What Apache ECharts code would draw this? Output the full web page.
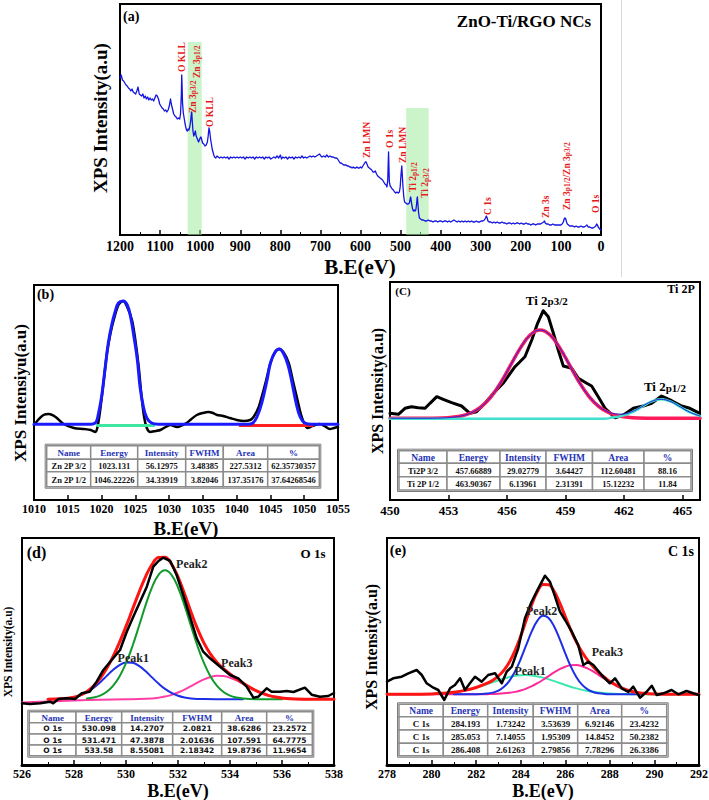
<!DOCTYPE html>
<html>
<head>
<meta charset="utf-8">
<script src="https://cdn.jsdelivr.net/npm/echarts@6.0.0/dist/echarts.min.js"></script>
<style>html,body{margin:0;padding:0;background:#fff;}#chart{width:709px;height:800px;}</style>
</head>
<body>
<div id="chart"></div>
<script>
// ================= DATA =================
// (a) survey spectrum: [binding energy eV, intensity a.u.]
const surveyTicks = [0,100,200,300,400,500,600,700,800,900,1000,1100,1200];
const surveyData = [
[1200,157],[1197,160],[1194,155],[1191,154],[1188,152],[1185,150],[1182,149],[1179,147],[1176,146],[1173,144],[1170,146],[1167,143],[1164,142],[1161,141],[1158,144],[1155,148],[1152,141],[1149,140],[1146,139],[1143,141],[1140,137],[1137,139],[1134,136],[1131,138],[1128,135],[1125,137],[1122,135],[1119,136],[1116,134],[1113,137],[1110,140],[1107,139],[1104,136],[1101,131],[1098,129],[1095,127],[1092,126],[1089,124],[1086,125],[1083,123],[1080,125],[1077,129],[1074,136],[1072,131],[1069,126],[1066,121],[1063,119],[1060,118],[1057,116],[1054,117],[1051,116],[1049,121],[1047,140],[1046,160],[1045,148],[1044,132],[1042,122],[1040,117],[1038,112],[1036,108],[1034,105],[1032,104],[1030,106],[1028,105],[1026,108],[1024,113],[1022,121],[1021,123],[1020,116],[1018,104],[1016,99],[1014,101],[1012,104],[1010,99],[1008,97],[1006,95],[1004,93],[1002,95],[1000,97],[998,98],[996,95],[994,92],[991,91],[988,89],[985,90],[982,93],[980,99],[978,107],[976,103],[974,96],[972,91],[970,86],[968,83],[966,80],[964,78],[961,77],[958,79],[955,78],[952,77],[948,78],[944,77],[940,78],[936,77],[932,78],[928,76],[924,78],[920,77],[916,78],[912,77],[908,78],[904,77],[900,78],[896,77],[892,78],[888,76],[884,78],[880,77],[876,78],[872,77],[868,78],[864,76],[860,78],[856,77],[852,78],[848,77],[844,78],[840,76],[836,78],[832,77],[828,78],[824,76],[820,77],[816,78],[812,77],[808,79],[804,77],[800,80],[797,76],[794,78],[790,77],[786,78],[782,76],[778,78],[774,77],[770,78],[766,76],[762,78],[758,77],[754,78],[750,77],[746,79],[742,77],[738,78],[734,77],[730,78],[726,79],[722,78],[718,79],[714,78],[710,79],[706,80],[702,81],[699,79],[696,78],[692,79],[688,78],[684,80],[680,78],[676,79],[672,78],[668,78],[664,77],[660,77],[657,76],[654,74],[651,72],[648,72],[645,71],[642,70],[639,70],[636,70],[633,69],[630,69],[627,68],[624,68],[621,67],[618,68],[615,67],[612,67],[609,68],[606,67],[603,67],[600,68],[597,67],[594,69],[591,71],[588,73],[586,73],[584,71],[581,68],[578,67],[575,66],[572,65],[569,63],[566,63],[563,64],[560,61],[557,59],[554,58],[551,57],[548,56],[545,55],[542,53],[539,51],[536,50],[534,48],[532,55],[531,70],[530,83],[529,68],[528,53],[526,49],[524,48],[521,46],[518,45],[515,43],[512,42],[509,43],[506,42],[503,43],[501,48],[499,60],[497,69],[496,62],[494,48],[492,38],[490,33],[487,32],[484,31],[481,31],[478,32],[476,36],[475,38],[474,36],[472,30],[470,26],[468,24],[466,25],[464,24],[462,25],[460,31],[459,36],[458,38],[457,32],[455,22],[453,17],[450,16],[447,15],[443,15],[439,14],[435,14],[431,15],[427,14],[423,14],[419,13],[415,14],[411,14],[407,13],[403,14],[399,14],[395,13],[391,14],[387,14],[383,13],[379,14],[375,13],[371,14],[367,15],[363,14],[359,13],[355,14],[351,13],[347,14],[343,13],[339,14],[335,13],[331,14],[327,13],[323,14],[319,13],[315,13],[311,14],[307,13],[303,13],[299,14],[295,14],[291,15],[288,17],[286,19],[284,17],[282,14],[279,13],[275,13],[271,12],[267,13],[263,12],[259,13],[255,12],[251,12],[247,13],[243,12],[239,12],[235,11],[231,12],[227,12],[223,11],[219,12],[215,11],[211,12],[207,12],[203,11],[199,12],[195,11],[191,11],[187,12],[183,11],[179,11],[175,10],[171,11],[167,11],[163,10],[159,11],[155,11],[151,11],[147,12],[143,13],[141,14],[139,12],[136,11],[132,11],[128,10],[124,10],[120,11],[116,10],[112,10],[108,10],[104,10],[100,10],[97,11],[94,13],[92,16],[90,17],[88,16],[86,13],[84,11],[81,10],[78,9],[74,9],[70,9],[66,8],[62,9],[58,8],[54,8],[50,9],[46,8],[42,8],[38,9],[35,10],[32,8],[28,8],[24,7],[20,7],[16,8],[13,9],[11,11],[9,10],[7,8],[5,7],[3,6],[1,5],[0,5]
];
// shaded regions: [from eV, to eV, top intensity]
const surveyBands = [[1031,996,193],[486,430,127]];
// peak labels: [text, eV, intensity at label start]
const surveyLabels = [
  ['O KLL',1046,163],['Zn 3{s|p3/2}',1018,122],['Zn 3{s|p1/2}',1008,157],['O KLL',975,108],
  ['Zn LMN',584,77],['O 1s',526,87],['Zn LMN',494,72],['Ti 2{s|p1/2}',469,43],['Ti 2{s|p3/2}',439,37],
  ['C 1s',282,20],['Zn 3s',137,17],['Zn 3{s|p1/2}/Zn 3{s|p3/2}',85,25],['O 1s',12,22]
];

// (b) Zn 2p
const znTicks = [1010,1015,1020,1025,1030,1035,1040,1045,1050,1055];
const znData = [[1010,75],[1010.6,80],[1011.4,85],[1012.2,86],[1013.2,83],[1014.4,76],[1015.9,72],[1017.4,71],[1018.4,70],[1019.1,68],[1019.4,73],[1019.8,90],[1020.3,118],[1020.8,147],[1021.3,166],[1021.8,180],[1022.5,195],[1023.2,199],[1023.8,193],[1024.5,180],[1025,160],[1025.5,133],[1025.9,105],[1026.3,83],[1026.7,72],[1027.2,68],[1028,69],[1028.7,70],[1029.5,73],[1030.2,75],[1031.2,73],[1032,75],[1032.6,77],[1033.3,81],[1034.1,85],[1035,87],[1035.8,88],[1036.5,87],[1037.1,85],[1038,84],[1039,82],[1040,80],[1041,79],[1042,80],[1042.5,83],[1043.2,92],[1043.7,103],[1044.3,118],[1045,137],[1045.6,147],[1046.3,151],[1047,147],[1047.7,137],[1048.3,120],[1048.9,103],[1049.5,86],[1050.1,75],[1050.5,72],[1050.9,73],[1051.6,75],[1052.3,76],[1053,74],[1053.8,71],[1054.4,72],[1055,73]];
const znFit = [[1010,75.7],[1018,75.7],[1018.7,76],[1019.2,78],[1019.5,85],[1020,103],[1020.5,130],[1021,157],[1021.5,175],[1022,188],[1022.5,197],[1023.2,199],[1023.8,195],[1024.3,183],[1024.8,163],[1025.3,140],[1025.7,113],[1026.2,93],[1026.7,82],[1027.4,77],[1028.4,75.7],[1041.7,75.7],[1042.4,77],[1043,83],[1043.7,96.7],[1044.5,120],[1045,137],[1045.7,148],[1046.3,151],[1046.9,147],[1047.6,135],[1048.2,117],[1048.8,97],[1049.4,83],[1050.1,77],[1051.1,75.7],[1055,75.7]];
const znBase32 = [[1019.4,74.5],[1027.7,74.5]];
const znBase12 = [[1040.5,74.5],[1051.2,74.5]];
const znHeader = ['Name','Energy','Intensity','FWHM','Area','%'];
const znRows = [['Zn 2P 3/2','1023.131','56.12975','3.48385','227.5312','62.35730357'],['Zn 2P 1/2','1046.22226','34.33919','3.82046','137.35176','37.64268546']];

// (c) Ti 2p
const tiTicks = [450,453,456,459,462,465];
const tiRange = [450,465.9];
const tiData = [[450.0,86.7],[450.43,85.7],[450.77,91.7],[451.1,93.3],[451.45,92.3],[451.8,91.7],[452.05,96.7],[452.4,103.3],[452.73,100.7],[453.16,97.3],[453.67,94],[454.1,86.7],[454.44,88.3],[454.87,96.7],[455.38,108.3],[455.8,116.7],[456.41,133.3],[456.92,143.3],[457.27,160],[457.57,176.7],[457.86,189.3],[458.12,183.3],[458.38,166.7],[458.63,150],[458.89,134],[459.32,131.7],[459.66,121.7],[460.09,116.7],[460.34,114],[460.68,103.3],[461.03,91.7],[461.54,82.3],[461.97,85],[462.48,91.7],[462.99,94],[463.42,96.7],[463.93,104],[464.45,99.3],[464.96,94],[465.38,91.7],[465.81,87.3]];
const tiPeak32 = [[450,81.7],[451.7,81.7],[452.7,82.0],[453.2,82.7],[453.7,84.2],[454.2,87.5],[454.7,93.6],[455.2,103.7],[455.7,118.0],[456.2,135.3],[456.7,152.4],[457.2,165.2],[457.7,170],[458.2,165.2],[458.7,152.4],[459.2,135.3],[459.7,118.0],[460.2,103.7],[460.7,93.6],[461.2,87.5],[461.7,84.2],[462.2,82.7],[462.7,82.0],[463.7,81.7],[465.9,81.7]];
const tiPeak12 = [[450,81.2],[461,81.2],[461.4,82.4],[461.9,84.1],[462.4,87.6],[462.9,93.0],[463.4,98.4],[463.9,100.7],[464.4,98.4],[464.9,93.0],[465.4,87.6],[465.9,84.1]];
const tiEnvelope = [[450,81.7],[451.7,81.7],[452.7,82.0],[453.2,82.7],[453.7,84.2],[454.2,87.5],[454.7,93.6],[455.2,103.7],[455.7,118.0],[456.2,135.3],[456.7,152.4],[457.2,165.2],[457.7,170],[458.2,165.2],[458.7,152.4],[459.2,135.3],[459.7,118.0],[460.2,103.7],[460.7,93.8],[460.9,91.0],[461.4,86.6],[461.9,85.9],[462.4,88.3],[462.9,93.2],[463.4,98.5],[463.9,100.7],[464.4,98.4],[464.9,93.0],[465.4,87.6],[465.9,84.1]];
const tiLabels = [['Ti 2{s|p3/2}',458.04,200],['Ti 2{s|p1/2}',464.1,113.3]];
const tiRows = [['Ti2P 3/2','457.66889','29.02779','3.64427','112.60481','88.16'],['Ti 2P 1/2','463.90367','6.13961','2.31391','15.12232','11.84']];

// (d) O 1s
const oTicks = [526,528,530,532,534,536,538];
const oData = [[526.0,61.7],[526.3,61],[526.7,61.7],[527.08,63.3],[527.2,61.7],[527.4,66],[527.72,66.7],[528.04,66],[528.3,71.7],[528.6,73.3],[528.87,83.3],[529.13,95],[529.45,105],[529.77,115],[530.03,133.3],[530.28,148.3],[530.54,163.3],[530.8,178.3],[531.05,198.3],[531.25,204],[531.43,207.3],[531.7,204],[531.95,190],[532.2,170],[532.46,148.3],[532.72,126.7],[532.97,113.3],[533.23,106.7],[533.62,98.3],[534.0,90],[534.32,86.7],[534.64,78.3],[534.9,67.3],[535.09,68.3],[535.41,76.7],[535.6,73.3],[535.92,73.3],[536.18,74],[536.44,73],[536.88,77.3],[537.14,70.3],[537.46,68.3],[537.78,69],[538.0,72]];
const oPeak1 = [[527,65.8],[527.5,66.2],[528,67.85],[528.25,69.8],[528.5,72.8],[528.75,77.1],[529,82.6],[529.25,88.9],[529.5,95.0],[529.75,99.9],[530,102.5],[530.25,102.2],[530.5,99.1],[530.75,93.9],[531,87.6],[531.25,81.45],[531.5,76.1],[531.75,72.1],[532,69.3],[532.25,67.6],[532.5,66.6],[532.75,66.1],[533,65.9],[534,65.7],[534.5,65.7]];
const oPeak2 = [[528.5,66.5],[528.75,67.5],[529,69.45],[529.25,73.05],[529.5,79.1],[529.75,88.5],[530,101.8],[530.25,119.0],[530.5,139.0],[530.75,159.6],[531,177.7],[531.25,190.2],[531.5,194.7],[531.75,190.2],[532,177.7],[532.25,159.6],[532.5,139.0],[532.75,119.0],[533,101.8],[533.25,88.5],[533.5,79.1],[533.75,73.05],[534,69.45],[534.25,67.5],[534.5,66.5],[535,65.8],[536,65.7]];
const oPeak3 = [[526,62.5],[527,63.5],[528,64.5],[529,65.2],[530,65.7],[530.5,65.9],[531,66.55],[531.25,67.3],[531.5,68.4],[531.75,70.1],[532,72.5],[532.25,75.4],[532.5,78.9],[532.75,82.4],[533,85.65],[533.25,88.05],[533.5,89.2],[533.75,88.95],[534,87.3],[534.25,84.55],[534.5,81.15],[534.75,77.6],[535,74.3],[535.25,71.55],[535.5,69.45],[535.75,67.95],[536,66.95],[536.5,66.0],[537,65.8]];
const oEnvelope = [[527,65.8],[527.5,66.2],[528,67.9],[528.25,70.0],[528.5,73.6],[528.75,78.9],[529,86.35],[529.25,96.25],[529.5,108.4],[529.75,122.7],[530,138.6],[530.25,155.6],[530.5,172.6],[530.75,188.2],[531,200.5],[531.25,207.5],[531.5,207.8],[531.75,201.0],[532,188.1],[532.25,171.2],[532.5,153.1],[532.75,136.1],[533,121.9],[533.25,110.9],[533.5,102.6],[533.75,96.3],[534,91.05],[534.25,86.35],[534.5,81.95],[534.75,77.9],[535,74.4],[535.25,71.55],[535.5,69.4],[535.75,67.9],[536,67.0],[536.5,66.0],[537,65.8],[538,65.7]];
const oLabels = [['Peak2',532.53,200.7],['Peak1',530.28,107],['Peak3',534.26,102]];
const oRows = [['O 1s','530.098','14.2707','2.0821','38.6286','23.2572'],['O 1s','531.471','47.3878','2.01636','107.591','64.7775'],['O 1s','533.58','8.55081','2.18342','19.8736','11.9654']];

// (e) C 1s
const cTicks = [278,280,282,284,286,288,290,292];
const cData = [[278.0,83.3],[278.28,86.7],[278.66,88.3],[278.96,91.7],[279.33,95],[279.56,90],[279.78,81.7],[280.08,77.3],[280.3,75],[280.57,65],[280.83,76.7],[281.05,80],[281.28,86.7],[281.5,75],[281.72,81.7],[281.95,88.3],[282.25,83.3],[282.54,90],[282.85,91.7],[283.15,81.7],[283.37,93.3],[283.6,98.3],[283.89,116.7],[284.19,146.7],[284.49,163.3],[284.79,176.7],[285.09,189.3],[285.31,183.3],[285.54,168.3],[285.76,153.3],[285.99,145],[286.29,133.3],[286.58,120],[286.81,100],[287.03,103.3],[287.26,100],[287.63,90],[288.0,81.7],[288.23,86.7],[288.53,76.7],[288.83,73],[289.05,78.3],[289.35,67.3],[289.65,73.3],[289.88,79.3],[290.1,70],[290.4,71.7],[290.77,75],[291.07,70.7],[291.44,74],[291.74,71.7],[292.0,70]];
const cPeak1 = [[278,70.7],[279,70.75],[280,71.1],[280.5,71.64],[281,72.71],[281.5,74.57],[282,77.35],[282.5,80.93],[283,84.79],[283.5,88.06],[283.75,89.19],[284,89.85],[284.25,89.98],[284.5,89.59],[285,87.38],[285.5,83.88],[286,80.02],[286.5,76.6],[287,74.04],[287.5,72.39],[288,71.47],[288.5,71.01],[289,70.81],[290,70.7],[292,70.7]];
const cPeak2 = [[281,70.7],[282,70.79],[282.5,71.4],[282.75,72.39],[283,74.42],[283.25,78.19],[283.5,84.45],[283.75,93.75],[284,106.0],[284.25,120.1],[284.5,133.8],[284.75,144.3],[285,149.15],[285.25,147.05],[285.5,138.56],[285.75,125.78],[286,111.53],[286.25,98.34],[286.5,87.79],[286.75,80.34],[287,75.67],[287.25,73.04],[287.5,71.71],[287.75,71.09],[288,70.84],[288.5,70.7],[289.5,70.7]];
const cPeak3 = [[278,70.7],[281,70.7],[282,70.73],[282.5,70.83],[283,71.18],[283.5,72.17],[283.75,73.11],[284,74.47],[284.25,76.34],[284.5,78.78],[284.75,81.77],[285,85.22],[285.25,88.92],[285.5,92.57],[285.75,95.82],[286,98.31],[286.25,99.74],[286.5,99.91],[286.75,98.83],[287,96.61],[287.25,93.54],[287.5,89.96],[287.75,86.24],[288,82.7],[288.5,76.97],[289,73.45],[289.5,71.7],[290,71.01],[291,70.72],[292,70.7]];
const cEnvelope = [[278,70.7],[279,70.75],[280,71.1],[280.5,71.64],[281,72.7],[281.5,74.6],[282,77.5],[282.5,81.8],[282.75,84.8],[283,89.0],[283.25,94.9],[283.5,103.3],[283.75,114.7],[284,128.9],[284.25,145.0],[284.5,160.8],[284.75,173.4],[285,180.4],[285.25,180.3],[285.5,173.6],[285.75,162.1],[286,148.5],[286.25,134.9],[286.5,122.9],[286.75,113.0],[287,104.9],[287.25,98.3],[287.5,92.7],[287.75,87.8],[288,83.6],[288.5,77.3],[289,73.56],[289.5,71.74],[290,71.0],[291,70.7],[292,70.7]];
const cLabels = [['Peak2',284.94,154],['Peak1',284.42,94.5],['Peak3',287.89,113]];
const cRows = [['C 1s','284.193','1.73242','3.53639','6.92146','23.4232'],['C 1s','285.053','7.14055','1.95309','14.8452','50.2382'],['C 1s','286.408','2.61263','2.79856','7.78296','26.3386']];

// ================= CHART =================
const SERIF = '"Liberation Serif", "Times New Roman", serif';
const chart = echarts.init(document.getElementById('chart'), null, {renderer: 'svg', width: 709, height: 800});

const grids = [
  {left:120, top:4,   width:481, height:231},
  {left:34,  top:285, width:304, height:215},
  {left:390, top:282, width:310, height:218},
  {left:22,  top:538, width:312, height:227},
  {left:387, top:538, width:312, height:227}
].map(g => Object.assign({show:true, borderColor:'#000', borderWidth:2, backgroundColor:'rgba(0,0,0,0)', containLabel:false, outerBoundsMode:'none'}, g));

function plain(v) { return String(v); }
function xAx(gi, ticks, fs, extra, margin) {
  return Object.assign({
    type:'value', gridIndex:gi, min:ticks[0], max:ticks[ticks.length-1], interval:ticks[1]-ticks[0],
    axisLine:{show:true, onZero:false, lineStyle:{color:'#000', width:2}},
    axisTick:{show:true, inside:true, length:5, lineStyle:{color:'#000', width:1.5}},
    minorTick:{show:false},
    splitLine:{show:false},
    axisLabel:{show:true, color:'#000', fontFamily:SERIF, fontWeight:'bold', fontSize:fs, margin:(margin == null ? 4 : margin), formatter:plain}
  }, extra || {});
}
const minorT = {show:true, splitNumber:2, length:3, lineStyle:{color:'#000'}};
const xAxes = [
  xAx(0, surveyTicks, 14, {inverse:true, minorTick:minorT}),
  xAx(1, znTicks, 12, null, 3),
  xAx(2, tiTicks, 13, {max:tiRange[1], axisLabel:{show:true, color:'#000', fontFamily:SERIF, fontWeight:'bold', fontSize:13, margin:4,
      formatter: v => (Math.abs(v/3 - Math.round(v/3)) < 1e-6 ? String(v) : '')}}),
  xAx(3, oTicks, 12, {axisLine:{show:true, onZero:false, lineStyle:{color:'#000', width:3}}, minorTick:minorT}, 3),
  xAx(4, cTicks, 12, {axisLine:{show:true, onZero:false, lineStyle:{color:'#000', width:3}}, minorTick:minorT}, 3)
];
const yMax = [231, 215, 218, 227, 227];
const yAxes = yMax.map((m, i) => ({type:'value', gridIndex:i, min:0, max:m, show:false}));

function line(gi, data, color, width, z, smooth) {
  return {type:'line', xAxisIndex:gi, yAxisIndex:gi, data:data, symbol:'none', showSymbol:false,
          smooth: smooth || false, lineStyle:{color:color, width:width, join:'round', cap:'round'}, z:z || 2, silent:true};
}

const series = [];
// (a)
const surveySeries = line(0, surveyData, '#1414e0', 1.3, 3, false);
surveySeries.markArea = {silent:true, itemStyle:{color:'rgba(160,235,160,0.55)'},
  data: surveyBands.map(b => [{xAxis:b[0], yAxis:0}, {xAxis:b[1], yAxis:b[2]}])};
series.push(surveySeries);
// (b)
series.push(line(1, znData, '#000', 2.5, 2, 0.3));
series.push(line(1, znBase32, '#3fe6a2', 3, 3));
series.push(line(1, znBase12, '#ff2020', 3, 3));
series.push(line(1, znFit, '#1a1aff', 3, 4, 0.4));
// (c)
series.push(line(2, tiData, '#000', 3, 2, false));
series.push(line(2, tiPeak32, '#ff1a5a', 3.5, 3, 0.4));
series.push(line(2, tiPeak12, '#3fe0d0', 2.5, 4, 0.4));
series.push(line(2, tiEnvelope, '#2626d9', 1, 5, 0.4));
// (d)
series.push(line(3, oPeak3, '#ff3fa5', 2, 2, 0.4));
series.push(line(3, oPeak1, '#1c2fe6', 2, 3, 0.4));
series.push(line(3, oPeak2, '#119a2c', 2, 3, 0.4));
series.push(line(3, oEnvelope, '#ff1414', 3, 4, 0.4));
series.push(line(3, oData, '#000', 2.5, 5, false));
// (e)
series.push(line(4, cPeak1, '#3de8b0', 2, 2, 0.4));
series.push(line(4, cPeak3, '#ff2a9a', 2, 3, 0.4));
series.push(line(4, cPeak2, '#1c2fe6', 2, 3, 0.4));
series.push(line(4, cEnvelope, '#ff1414', 3, 4, 0.4));
series.push(line(4, cData, '#000', 2.5, 5, false));

chart.setOption({
  animation:false,
  backgroundColor:'#fff',
  grid:grids, xAxis:xAxes, yAxis:yAxes, series:series
});

// ================= ANNOTATIONS =================
const g = [];
function P(gi, x, y) { return chart.convertToPixel({gridIndex:gi}, [x, y]); }
function txt(x, y, text, font, opts) {
  return Object.assign({type:'text', x:x, y:y, z:60,
    style:Object.assign({text:text, font:font, fill:'#000', align:'center', verticalAlign:'middle'}, (opts && opts.style) || {})},
    (opts && opts.el) || {});
}
// (a) peak labels (red, vertical)
surveyLabels.forEach(l => {
  const p = P(0, l[1], l[2]);
  g.push({type:'text', x:p[0], y:p[1], rotation:Math.PI/2, z:60,
    style:{text:l[0], font:'bold 9.5px ' + SERIF, fill:'#e51b1b', align:'left', verticalAlign:'middle',
      rich:{s:{fontSize:7.5, fontFamily:SERIF, fontWeight:'bold', fill:'#e51b1b', verticalAlign:'bottom'}}}});
});
// (c)
tiLabels.forEach(l => {
  const p = P(2, l[1], l[2]);
  g.push({type:'text', x:p[0], y:p[1], z:60,
    style:{text:l[0], font:'bold 13px ' + SERIF, fill:'#000', align:'center', verticalAlign:'middle',
      rich:{s:{fontSize:11, fontFamily:SERIF, fontWeight:'bold', fill:'#000', verticalAlign:'bottom'}}}});
});
// (d), (e)
oLabels.forEach(l => { const p = P(3, l[1], l[2]); g.push(txt(p[0], p[1], l[0], 'bold 12px ' + SERIF, {style:{fill:'#222'}})); });
cLabels.forEach(l => { const p = P(4, l[1], l[2]); g.push(txt(p[0], p[1], l[0], 'bold 12px ' + SERIF, {style:{fill:'#222'}})); });

// panel titles / axis titles
g.push(txt(123, 16, '(a)', 'bold 14px ' + SERIF, {style:{align:'left'}}));
g.push(txt(524, 21, 'ZnO-Ti/RGO NCs', 'bold 17px ' + SERIF));
g.push(txt(100, 118, 'XPS Intensity(a.u)', 'bold 19px ' + SERIF, {el:{rotation:Math.PI/2}}));
g.push(txt(360, 267, 'B.E(eV)', 'bold 21px ' + SERIF));

g.push(txt(45.5, 294, '(b)', 'bold 14px ' + SERIF));
g.push(txt(20, 393, 'XPS Intensiyu(a.u)', 'bold 17px ' + SERIF, {el:{rotation:Math.PI/2}}));
g.push(txt(186, 528, 'B.E(eV)', 'bold 19px ' + SERIF));

g.push(txt(403, 291, '(C)', 'bold 11px ' + SERIF));
g.push(txt(681, 289, 'Ti 2P', 'bold 12px ' + SERIF));
g.push(txt(377, 391, 'XPS Intensity(a.u)', 'bold 16px ' + SERIF, {el:{rotation:Math.PI/2}}));

g.push(txt(36.5, 552, '(d)', 'bold 16px ' + SERIF));
g.push(txt(313, 553, 'O 1s', 'bold 13px ' + SERIF));
g.push(txt(8, 652, 'XPS Intensity(a.u)', 'bold 11.5px ' + SERIF, {el:{rotation:Math.PI/2}}));
g.push(txt(178, 791, 'B.E(eV)', 'bold 18px ' + SERIF));

g.push(txt(398, 550, '(e)', 'bold 15px ' + SERIF));
g.push(txt(681, 551, 'C 1s', 'bold 14px ' + SERIF));
g.push(txt(371, 647, 'XPS Intensity(a.u)', 'bold 16px ' + SERIF, {el:{rotation:Math.PI/2}}));
g.push(txt(543, 791, 'B.E(eV)', 'bold 18px ' + SERIF));

// faint page separator
g.push({type:'line', shape:{x1:621.5, y1:0, x2:621.5, y2:277}, style:{stroke:'#d8d8d8', lineWidth:1}, z:1});

// tables
function tableEls(cols, rows, header, body, hf, df) {
  const data = [header].concat(body);
  const els = [];
  for (let r = 0; r < rows.length - 1; r++) {
    for (let c = 0; c < cols.length - 1; c++) {
      els.push({type:'rect', z:50, shape:{x:cols[c], y:rows[r], width:cols[c+1]-cols[c], height:rows[r+1]-rows[r]},
        style:{fill:'#fff', stroke:'#8c8c8c', lineWidth:1.5}});
      els.push({type:'text', z:51, x:(cols[c]+cols[c+1])/2, y:(rows[r]+rows[r+1])/2 + 0.5,
        style:{text:String(data[r][c]), font:r === 0 ? hf : df, fill:r === 0 ? '#1f34b5' : '#111', align:'center', verticalAlign:'middle'}});
    }
  }
  els.push({type:'rect', z:52, shape:{x:cols[0]-1.5, y:rows[0]-1.5, width:cols[cols.length-1]-cols[0]+3, height:rows[rows.length-1]-rows[0]+3},
    style:{fill:'none', stroke:'#7a7a7a', lineWidth:1}});
  return els;
}
const SANS = '"DejaVu Sans", Verdana, sans-serif';
g.push(...tableEls([46.7,90.7,137.7,185.7,223.3,267.7,319.3], [445.7,459.3,471.7,486.7], znHeader, znRows,
  'bold 9px ' + SERIF, 'bold 8.5px ' + SERIF));
g.push(...tableEls([399,447,500,546,592.5,644,691], [450.7,463.3,476.7,490], znHeader, tiRows,
  'bold 9.5px ' + SERIF, 'bold 8.5px ' + SERIF));
g.push(...tableEls([29.3,76,121.7,172.7,221.7,266.7,312.3], [711.7,722.7,734,745,755.7], znHeader, oRows,
  'bold 9px ' + SERIF, 'bold 7.5px ' + SANS));
g.push(...tableEls([399,443.3,487.7,533.3,577.7,621.7,666.7], [704.3,716.7,730,743.3,755.7], znHeader, cRows,
  'bold 9.5px ' + SERIF, 'bold 9px ' + SERIF));

chart.setOption({graphic:{elements:g}});
</script>
</body>
</html>
